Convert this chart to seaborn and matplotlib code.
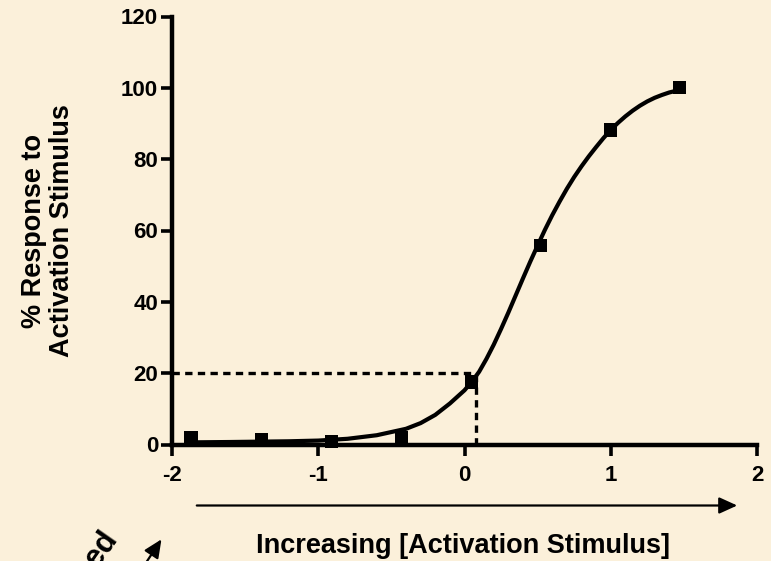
import matplotlib
matplotlib.use("Agg")
import matplotlib.pyplot as plt
import seaborn as sns
import pandas as pd

# ---- data ----
dose_log = [-1.87, -1.39, -0.91, -0.43, 0.05, 0.52, 1.00, 1.47]
response = [2.0, 1.4, 0.8, 1.8, 17.5, 55.8, 88.2, 100.0]

curve_x = [-1.87, -1.6, -1.4, -1.2, -1.0, -0.8, -0.6, -0.4, -0.3, -0.2, -0.1, 0.0,
           0.05, 0.1, 0.15, 0.2, 0.25, 0.3, 0.35, 0.4, 0.45, 0.5, 0.55, 0.6, 0.65,
           0.7, 0.75, 0.8, 0.85, 0.9, 0.95, 1.0, 1.05, 1.1, 1.15, 1.2, 1.25, 1.3,
           1.35, 1.4, 1.47]
curve_y = [0.6, 0.7, 0.8, 0.9, 1.1, 1.6, 2.6, 4.4, 6.0, 8.3, 11.5, 15.2,
           17.6, 20.4, 24.0, 28.0, 32.4, 37.0, 41.8, 46.6, 51.3, 55.8, 60.2, 64.3, 68.1,
           71.7, 75.0, 78.0, 80.8, 83.4, 85.9, 88.2, 90.2, 92.0, 93.6, 95.0, 96.2, 97.2,
           98.0, 98.7, 99.4]

ec20_x = 0.08
ec20_y = 20

x_ticks = [-2, -1, 0, 1, 2]
y_ticks = [0, 20, 40, 60, 80, 100, 120]

x_label = "Increasing [Activation Stimulus]"
y_label = "% Response to\nActivation Stimulus"
corner_text = "Increased"

bg = "#FBF0DA"

sns.set_theme(style="ticks")
plt.rcParams["font.family"] = ["Liberation Sans", "DejaVu Sans"]
plt.rcParams["font.weight"] = "bold"
plt.rcParams["axes.labelcolor"] = "black"
plt.rcParams["text.color"] = "black"

fig = plt.figure(figsize=(7.71, 5.61), dpi=100, facecolor=bg)
W, H = 771, 561
ax = fig.add_axes([172 / W, 1 - 444.5 / H, (757 - 172) / W, (444.5 - 16.5) / H])
ax.set_facecolor("none")

df_pts = pd.DataFrame({"x": dose_log, "y": response})
df_curve = pd.DataFrame({"x": curve_x, "y": curve_y})

# dashed EC20 guide lines
ax.plot([x_ticks[0], ec20_x], [ec20_y, ec20_y], color="black", lw=2.4,
        ls=(0, (2.2, 1.6)), clip_on=False, zorder=2)
ax.plot([ec20_x, ec20_x], [0, ec20_y], color="black", lw=2.4,
        ls=(0, (2.2, 1.6)), clip_on=False, zorder=2)

sns.lineplot(data=df_curve, x="x", y="y", ax=ax, color="black", lw=3.0,
             sort=False, clip_on=False, zorder=3)
sns.scatterplot(data=df_pts, x="x", y="y", ax=ax, marker="s", s=92,
                color="black", edgecolor="none", clip_on=False, zorder=4)

ax.set_xlim(x_ticks[0], x_ticks[-1])
ax.set_ylim(y_ticks[0], y_ticks[-1])
ax.set_xticks(x_ticks)
ax.set_yticks(y_ticks)
ax.set_xticklabels([str(t) for t in x_ticks], fontweight="bold")
ax.set_yticklabels([str(t) for t in y_ticks], fontweight="bold")
ax.set_xlabel("")
ax.set_ylabel(y_label, fontsize=19.5, fontweight="bold", labelpad=33,
              linespacing=1.1, color="black")

for s in ["top", "right"]:
    ax.spines[s].set_visible(False)
for s in ["left", "bottom"]:
    ax.spines[s].set_linewidth(3.2)
    ax.spines[s].set_color("black")
ax.tick_params(axis="both", direction="out", length=8, width=2.6, color="black",
               labelsize=16, labelcolor="black")
ax.tick_params(axis="x", pad=7)
ax.tick_params(axis="y", pad=2)

# x label below the long arrow
fig.text(463 / W, 1 - 553 / H, x_label, ha="center", va="baseline",
         fontsize=19.5, fontweight="bold", color="black")

# long horizontal arrow
fig.patches.append(matplotlib.patches.FancyArrowPatch(
    (194 / W, 1 - 505.5 / H), (740 / W, 1 - 505.5 / H),
    transform=fig.transFigure, arrowstyle="-|>,head_length=11,head_width=5",
    mutation_scale=1, lw=1.6, color="black"))

# clipped rotated text and arrow at lower left (cut off at the edge as in the reference)
fig.text(118 / W, 1 - 538 / H, corner_text, rotation=55, rotation_mode="anchor",
         ha="right", va="baseline", fontsize=22, fontweight="bold", color="black")
fig.patches.append(matplotlib.patches.FancyArrowPatch(
    (128 / W, 1 - 590 / H), (163 / W, 1 - 537 / H),
    transform=fig.transFigure, arrowstyle="-|>,head_length=11,head_width=5",
    mutation_scale=1, lw=1.6, color="black"))

fig.savefig("out.png", dpi=100, facecolor=bg)
